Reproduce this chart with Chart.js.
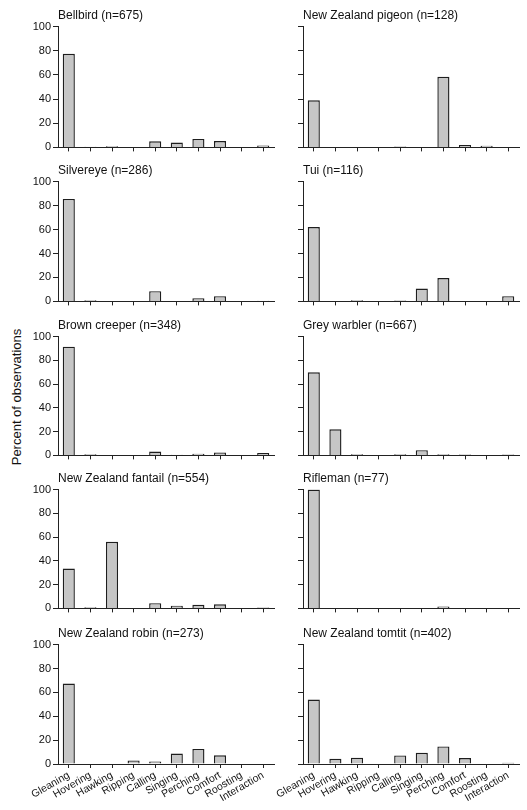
<!DOCTYPE html>
<html><head><meta charset="utf-8"><title>Foraging behaviour of forest birds</title>
<script src="https://cdn.jsdelivr.net/npm/chart.js"></script>
<style>
body{margin:0;background:#fff;width:527px;height:810px;position:relative;overflow:hidden;font-family:"Liberation Sans",Arial,sans-serif;color:#111}
.box{position:absolute}
.ttl{position:absolute;font-size:12px;line-height:14px;white-space:nowrap}
#ylab{position:absolute;left:16px;top:397px;font-size:13px;transform:translate(-50%,-50%) rotate(-90deg);white-space:nowrap}
</style></head>
<body>
<div id="ylab">Percent of observations</div>
<script>
// behaviour categories (x axis)
const categories = ['Gleaning','Hovering','Hawking','Ripping','Calling','Singing','Perching','Comfort','Roosting','Interaction'];
const titles = [
  'Bellbird (n=675)', 'New Zealand pigeon (n=128)',
  'Silvereye (n=286)', 'Tui (n=116)',
  'Brown creeper (n=348)', 'Grey warbler (n=667)',
  'New Zealand fantail (n=554)', 'Rifleman (n=77)',
  'New Zealand robin (n=273)', 'New Zealand tomtit (n=402)'
];
// percent of observations
const bellbird  = [77.5, 0.5, 1, 0, 5, 4, 7, 5.2, 0.3, 1.5];
const pigeon    = [39, 0, 0, 0, 0.8, 0, 58.5, 1.9, 1.4, 0];
const silvereye = [85.5, 1, 0, 0, 8.5, 0, 2.7, 4.4, 0, 0.5];
const tui       = [62, 0, 1, 0, 0.8, 10.7, 19.5, 0, 0, 4.4];
const creeper   = [91.5, 1, 0, 0, 3.3, 0.5, 1.4, 2.5, 0, 2];
const warbler   = [70, 22, 1, 0, 1, 4.4, 1, 0.7, 0, 0.7];
const fantail   = [33.5, 1, 56, 0, 4.4, 2.2, 3, 3.5, 0, 0.8];
const rifleman  = [100, 0, 0, 0, 0, 0, 1.5, 0, 0, 0];
const robin     = [67.4, 0, 0, 3, 2, 8.7, 12.6, 7.3, 0, 0];
const tomtit    = [54, 4.4, 5.3, 0, 7.2, 9.4, 14.7, 5, 0, 1];
const series = [bellbird, pigeon, silvereye, tui, creeper, warbler, fantail, rifleman, robin, tomtit];

const rowTop = [26, 181, 336, 489, 644];
const rowBottom = [150, 304, 458, 611, 764];
const cols = [{left: 0, width: 276, axis: 58, pr: 2}, {left: 276, width: 246, axis: 27, pr: 3}];

Chart.defaults.font.family = '"Liberation Sans", Arial, sans-serif';
Chart.defaults.color = '#111';

series.forEach((vals, i) => {
  const r = Math.floor(i / 2), c = i % 2, col = cols[c];
  const last = r === 4;
  const xh = last ? 46 : 6;

  const box = document.createElement('div');
  box.className = 'box';
  box.style.left = col.left + 'px';
  box.style.top = (rowTop[r] - 8) + 'px';
  box.style.width = col.width + 'px';
  box.style.height = (rowBottom[r] - rowTop[r] + 8 + xh) + 'px';
  const cv = document.createElement('canvas');
  box.appendChild(cv);
  document.body.appendChild(box);

  const t = document.createElement('div');
  t.className = 'ttl';
  t.textContent = titles[i];
  t.style.left = (col.left + col.axis) + 'px';
  t.style.top = (rowTop[r] - 18) + 'px';
  document.body.appendChild(t);

  new Chart(cv, {
    type: 'bar',
    data: {
      labels: categories,
      datasets: [{
        data: vals,
        backgroundColor: '#c6c6c6',
        borderColor: '#1e1e1e',
        borderWidth: 1.4,
        categoryPercentage: 1,
        barPercentage: 0.56
      }]
    },
    options: {
      responsive: true,
      maintainAspectRatio: false,
      animation: false,
      layout: {padding: {top: 8, right: col.pr, left: 0, bottom: 0}},
      plugins: {legend: {display: false}, tooltip: {enabled: false}},
      scales: {
        x: {
          grid: {display: true, drawOnChartArea: false, drawTicks: true, tickLength: 4, color: '#222', offset: false},
          border: {display: true, color: '#222', width: 1},
          ticks: {display: last, autoSkip: false, minRotation: 30, maxRotation: 30, padding: 1, font: {size: 10.5}},
          afterFit(s) { s.height = xh; s.paddingLeft = 0; s.paddingRight = 0; }
        },
        y: {
          min: 0, max: 100,
          grid: {drawOnChartArea: false, tickLength: 5, color: '#222'},
          border: {color: '#222', width: 1},
          ticks: {stepSize: 10, padding: 2, font: {size: 11}, callback: v => (c === 0 && v % 20 === 0) ? v : ''},
          afterFit(s) { s.width = col.axis; }
        }
      }
    }
  });
});
</script></body></html>
